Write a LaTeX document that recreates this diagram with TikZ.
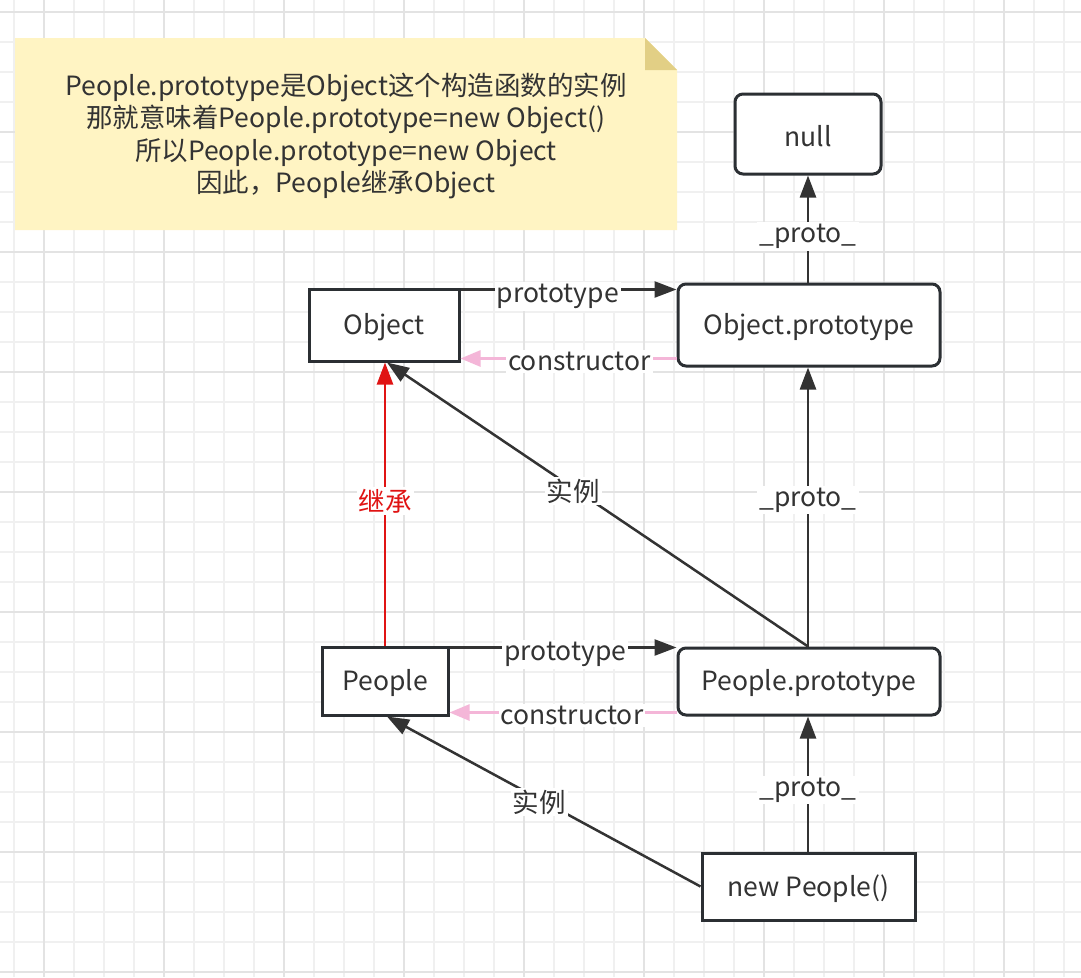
\documentclass[tikz,border=0pt]{standalone}
\usepackage{fontspec}
\setmainfont{Noto Sans CJK SC}
\usetikzlibrary{arrows.meta,calc}
\definecolor{gridA}{HTML}{F0F0F0}
\definecolor{gridB}{HTML}{E3E3E3}
\definecolor{notefill}{HTML}{FFF4C3}
\definecolor{notefold}{HTML}{E2CF85}
\definecolor{ink}{HTML}{333333}
\definecolor{boxline}{HTML}{2B2F33}
\definecolor{pinkline}{HTML}{F4B6D8}
\definecolor{redline}{HTML}{E01414}
\tikzset{
  box/.style={draw=boxline,line width=3pt,fill=white,inner sep=0pt,text=ink,
    font=\fontsize{26.5}{30}\selectfont},
  rbox/.style={box,rounded corners=8pt},
  boxtext/.style={yshift=-2pt,inner sep=0pt,text=ink,font=\fontsize{26.5}{30}\selectfont},
  edge/.style={draw=ink,line width=2.5pt,-{Triangle[length=22pt,width=16pt]}},
  pinkedge/.style={draw=pinkline,line width=2.5pt,-{Triangle[length=20pt,width=16pt]}},
  rededge/.style={draw=redline,line width=2.5pt,-{Triangle[length=22pt,width=16pt]}},
  lbl/.style={fill=white,inner sep=2pt,yshift=-3pt,text=ink,font=\fontsize{26.5}{30}\selectfont},
  plbl/.style={lbl,yshift=-4pt},
}
\begin{document}
\begin{tikzpicture}[x=1pt,y=-1pt]
\useasboundingbox (0,0) rectangle (1081,977);
\fill[white] (0,0) rectangle (1081,977);
% grid
\foreach \k in {0,...,35}{
  \draw[gridA,line width=1.6pt] ({14+30*\k},0) -- ({14+30*\k},977);
}
\foreach \k in {0,...,32}{
  \draw[gridA,line width=1.6pt] (0,{12+30*\k}) -- (1081,{12+30*\k});
}
\foreach \k in {0,...,8}{
  \draw[gridB,line width=1.6pt] ({44+120*\k},0) -- ({44+120*\k},977);
  \draw[gridB,line width=1.6pt] (0,{12+120*\k}) -- (1081,{12+120*\k});
}
% note
\fill[notefill] (15,38) -- (645,38) -- (677,70) -- (677,230) -- (15,230) -- cycle;
\fill[notefold] (645,38) -- (677,70) -- (645,70) -- cycle;
\node[text=ink,align=center,font=\fontsize{26.5}{32.5}\selectfont] (note) at (346,136)
  {People.prototype是Object这个构造函数的实例\\那就意味着People.prototype=new Object()\\所以People.prototype=new Object\\因此，People继承Object};
% nodes
\node[rbox,minimum width=146pt,minimum height=80pt] (null) at (808,134) {};
\node[box,minimum width=150pt,minimum height=72pt] (obj) at (384,325) {};
\node[rbox,minimum width=262pt,minimum height=82pt] (opro) at (809,325) {};
\node[box,minimum width=126pt,minimum height=68pt] (people) at (385,681) {};
\node[rbox,minimum width=262pt,minimum height=67pt] (ppro) at (809,681.5) {};
\node[box,minimum width=213pt,minimum height=67pt] (newp) at (808.5,886.5) {};
\node[boxtext] (tnull) at (null.center) {null};
\node[boxtext] (tobj) at (obj.center) {Object};
\node[boxtext] (topro) at (opro.center) {Object.prototype};
\node[boxtext] (tpeople) at (people.center) {People};
\node[boxtext] (tppro) at (ppro.center) {People.prototype};
\node[boxtext] (tnewp) at (newp.center) {new People()};
% edges
\draw[edge] (null.south |- opro.north) -- node[lbl,pos=0.46] {\_proto\_} (null.south);
\draw[edge] ([yshift=-2pt]obj.north east) -- node[plbl,pos=0.45] {prototype} ([yshift=-2pt]obj.north east -| opro.west);
\draw[pinkedge] ([yshift=4pt]obj.south east -| opro.west) -- node[lbl,pos=0.45] {constructor} ([yshift=4pt]obj.south east);
\draw[edge] (null.south |- ppro.north) -- node[lbl,pos=0.535] {\_proto\_} (null.south |- opro.south);
\draw[edge] (null.south |- ppro.north) -- node[lbl,pos=0.558] {实例} ([xshift=3pt]obj.south);
\draw[rededge] (people.north) -- node[lbl,text=redline,pos=0.52] {继承} (people.north |- obj.south);
\draw[edge] ([yshift=-2pt]people.north east) -- node[plbl,pos=0.51] {prototype} ([yshift=-2pt]people.north east -| ppro.west);
\draw[pinkedge] ([yshift=4pt]people.south east -| ppro.west) -- node[lbl,pos=0.46] {constructor} ([yshift=4pt]people.south east);
\draw[edge] (null.south |- newp.north) -- node[lbl,pos=0.478] {\_proto\_} (null.south |- ppro.south);
\draw[edge] (newp.west) -- node[lbl,pos=0.514] {实例} ([xshift=2pt]people.south);
\end{tikzpicture}
\end{document}
